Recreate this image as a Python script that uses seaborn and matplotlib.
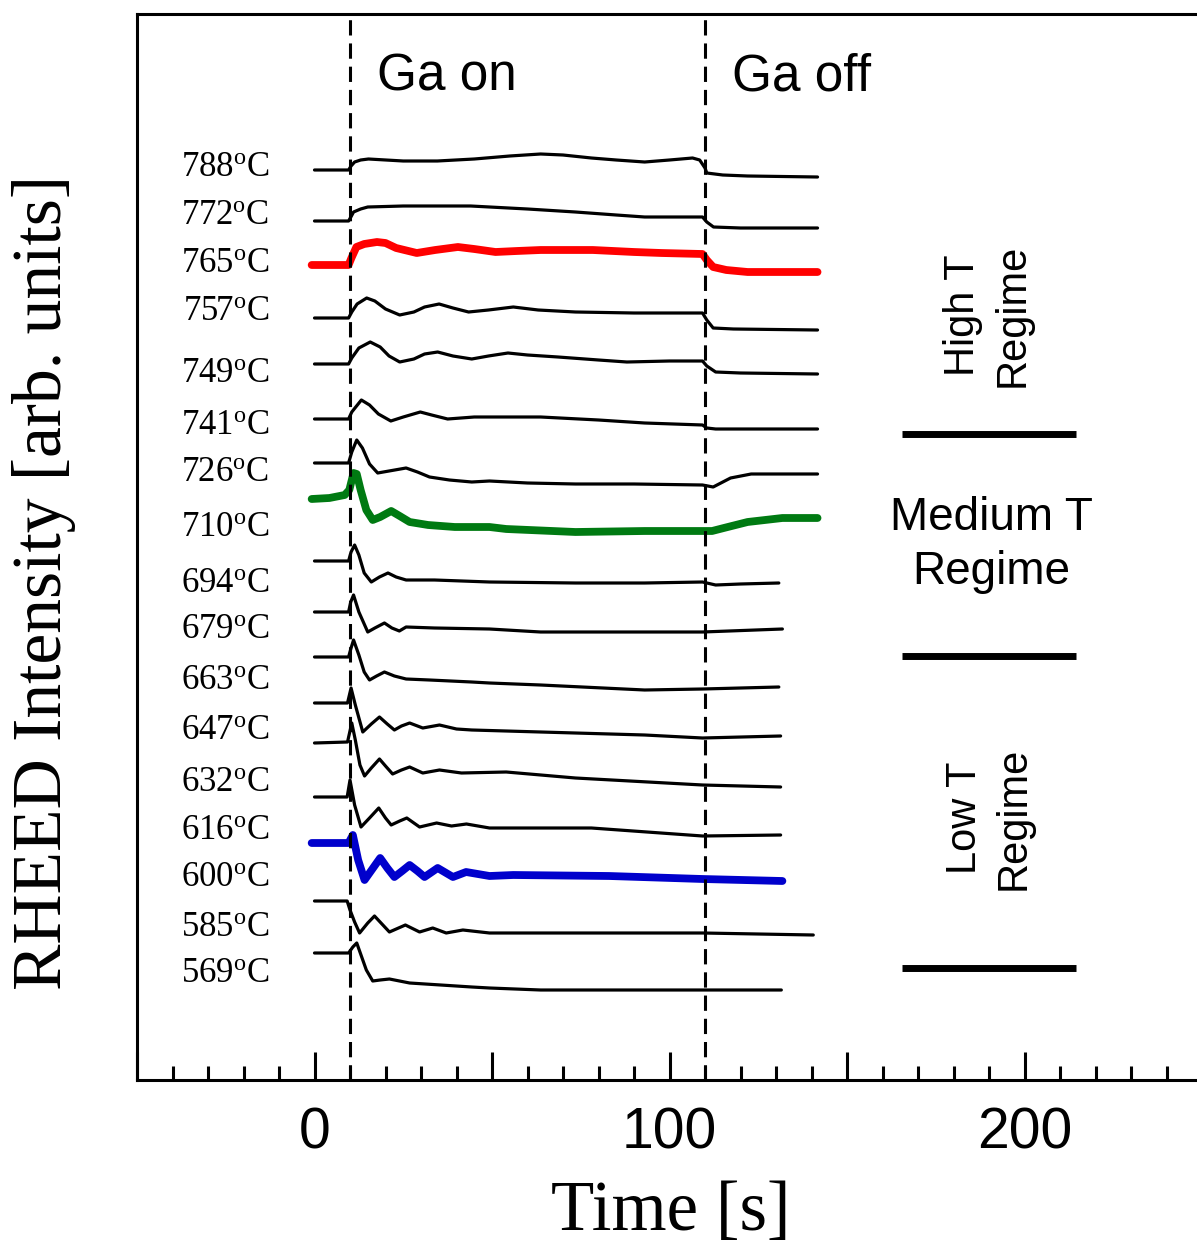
import matplotlib
matplotlib.use("Agg")
import matplotlib.pyplot as plt
import seaborn as sns
import pandas as pd
from matplotlib.ticker import MultipleLocator, FixedLocator, FixedFormatter

# ---------------- data (time [s], intensity [arb. units]) ----------------
t_788 = [0, 9.6, 10.3, 11.3, 13, 15.2, 25, 34.6, 45, 55, 63.7, 70, 78, 85, 93, 100, 106.5, 108.5, 110, 110.5, 115, 122, 141.7]
v_788 = [910, 910, 914, 918, 920, 921, 919, 919, 921, 924, 926, 925, 922, 920, 918, 920, 922, 920, 912, 907, 905, 904, 903]

t_772 = [0, 9.6, 10.4, 11, 13, 15, 25, 44, 60, 73.5, 85, 93, 109.3, 110.5, 112.4, 120, 141.7]
v_772 = [859, 859, 864, 868, 871, 873, 874, 874, 871, 868, 865, 863, 863, 858, 853, 852, 852]

t_765 = [-0.8, 9.6, 10.4, 11.8, 14, 17.6, 20, 23, 28.8, 34, 40.4, 45, 51, 57, 63.7, 78.4, 90, 97.7, 109.3, 110.5, 112.3, 116, 122, 141.7]
v_765 = [815, 815, 822, 833, 836, 838, 837, 832, 827, 830, 833, 831, 828, 829, 830, 830, 828, 827, 826, 820, 813, 810, 808, 808]

t_757 = [0, 9.6, 10.5, 12, 14.7, 17, 20, 24, 28, 31, 35.1, 39, 43.4, 49, 56, 63, 73.5, 90, 109.3, 110.5, 112.3, 118, 141.7]
v_757 = [762, 762, 768, 776, 782, 779, 771, 765, 768, 773, 776, 772, 768, 770, 773, 770, 768, 767, 767, 760, 752, 751, 750]

t_749 = [0, 9.6, 10.5, 12.5, 15.7, 18.5, 21, 24, 28, 31, 34.7, 39, 44.3, 49, 54.5, 60, 68.6, 80, 88, 100, 109.3, 110.5, 113, 120, 141.7]
v_749 = [716, 716, 722, 732, 738, 733, 724, 718, 721, 726, 728, 724, 721, 724, 727, 725, 723, 720, 718, 719, 719, 714, 708, 707, 706]

t_741 = [0, 9.6, 10.5, 13.2, 15.5, 18, 21.5, 25, 29.8, 33, 37.5, 45, 63.7, 80, 93, 109.3, 110.5, 113, 141.7]
v_741 = [661, 661, 668, 680, 675, 666, 659, 663, 668, 665, 661, 663, 663, 660, 657, 655, 652, 651, 651]

t_726 = [0, 9.6, 10.5, 11.9, 13.5, 15.5, 17.8, 21, 25.8, 29, 32.4, 38, 44.3, 49.3, 60, 73.5, 90, 109.3, 112.3, 117.2, 123, 141.7]
v_726 = [617, 617, 628, 640, 632, 616, 607, 609, 612, 608, 603, 600, 598, 599, 597, 596, 596, 595, 593, 602, 606, 606]

t_710 = [-0.8, 4.2, 8.5, 9.8, 11, 11.9, 13, 14.6, 16.4, 18.5, 21.6, 24, 26.8, 32, 39.5, 49.3, 54, 73.5, 93, 109.3, 112, 115.3, 122, 131.8, 141.7]
v_710 = [581, 582, 585, 590, 607, 606, 590, 570, 560, 563, 569, 564, 558, 555, 553, 553, 551, 548, 549, 549, 549, 552, 558, 562, 562]

t_694 = [0, 9.6, 10.3, 11.3, 12.5, 14, 16, 18.3, 20.7, 23, 25.8, 33.8, 49.3, 73.5, 93, 109.3, 113, 120, 130.8]
v_694 = [519, 519, 528, 535, 525, 507, 498, 503, 507, 503, 500, 500, 498, 497, 497, 498, 495, 496, 497]

t_679 = [0, 9.6, 10.2, 11, 12.5, 15, 17, 19.7, 21.8, 23.9, 25.8, 33.8, 49.3, 63.7, 109.3, 131.8]
v_679 = [468, 468, 478, 485, 468, 448, 452, 457, 452, 449, 453, 452, 451, 448, 448, 451]

t_663 = [0, 9.6, 10.3, 11, 12.5, 14, 15.5, 17.5, 19.7, 22.5, 25.8, 32.4, 44.3, 49.3, 63.7, 93, 109.3, 130.8]
v_663 = [423, 423, 432, 440, 425, 408, 400, 404, 408, 404, 401, 400, 398, 397, 395, 390, 391, 393]

t_647 = [0, 9.3, 10.3, 11.5, 13.6, 16, 18.3, 20.5, 22.5, 24.5, 26.8, 30.5, 35.2, 40, 44.3, 63.7, 93, 109.3, 131.3]
v_647 = [377, 377, 392, 375, 348, 356, 363, 356, 350, 354, 357, 352, 355, 351, 350, 348, 345, 342, 344]

t_632 = [0, 9.3, 10.5, 11.5, 12.8, 14.1, 16, 18.3, 20, 22, 24.5, 26.8, 30.5, 35.2, 41.4, 54, 73.5, 109.3, 131.3]
v_632 = [337, 338, 357, 340, 315, 304, 312, 321, 314, 306, 310, 313, 307, 310, 307, 308, 302, 295, 293]

t_616 = [0, 9.2, 10, 11.3, 13.1, 15.5, 18.1, 20, 21.6, 24, 26, 29.6, 34.4, 38.6, 42.8, 49.3, 54, 78, 109.3, 131.3]
v_616 = [283, 283, 300, 275, 253, 262, 272, 262, 255, 259, 262, 253, 257, 254, 256, 252, 252, 252, 244, 245]

t_600 = [-0.8, 9.6, 10.8, 12.3, 14.1, 16.3, 18.5, 20.5, 22.5, 24.7, 26.8, 29, 31, 34.7, 39, 42.7, 49.3, 56, 83, 109.3, 131.8]
v_600 = [237, 237, 245, 220, 200, 211, 222, 212, 203, 209, 215, 209, 203, 212, 203, 208, 204, 205, 204, 201, 199]

t_585 = [0, 9.2, 10, 11.3, 12.7, 15, 16.9, 19, 21.1, 25.6, 29.6, 33.3, 37.1, 41.8, 49.3, 73.5, 109.3, 140.5]
v_585 = [179, 179, 170, 158, 147, 157, 164, 156, 148, 155, 148, 152, 147, 150, 147, 147, 147, 145]

t_569 = [0, 9.6, 10.8, 11.9, 13.2, 14.6, 16.4, 18.5, 21.1, 26.8, 44.3, 49.3, 63.7, 131.5]
v_569 = [127, 127, 133, 137, 124, 110, 99, 100, 101, 97, 93, 92, 90, 90]

temperatures = [788, 772, 765, 757, 749, 741, 726, 710, 694, 679, 663, 647, 632, 616, 600, 585, 569]
times = [t_788, t_772, t_765, t_757, t_749, t_741, t_726, t_710, t_694, t_679,
         t_663, t_647, t_632, t_616, t_600, t_585, t_569]
values = [v_788, v_772, v_765, v_757, v_749, v_741, v_726, v_710, v_694, v_679,
          v_663, v_647, v_632, v_616, v_600, v_585, v_569]
highlight = {765: "#ff0000", 710: "#007a12", 600: "#0000cc"}

label_y = [904, 856, 808, 760, 698, 646, 599, 544, 488, 442, 391, 341, 289, 241, 194, 144, 98]
ga_times = [10, 110]
regime_bounds = [646, 424, 112]
xtick_labels = ["", "0", "", "100", "", "200", ""]

# ---------------- figure ----------------
sns.set_theme(style="white")
plt.rcParams["mathtext.fontset"] = "custom"
plt.rcParams["mathtext.rm"] = "Liberation Serif"
plt.rcParams["mathtext.it"] = "Liberation Serif:italic"
plt.rcParams["text.color"] = "black"
plt.rcParams["axes.labelcolor"] = "black"
plt.rcParams["xtick.color"] = "black"
plt.rcParams["xtick.labelcolor"] = "black"

W, H = 1197, 1244
fig = plt.figure(figsize=(W / 100, H / 100), dpi=100)
ax = fig.add_axes([137 / W, (H - 1080) / H, 1065 / W, 1066 / H])

for temp, tt, vv in zip(temperatures, times, values):
    df = pd.DataFrame({"t": tt, "v": vv})
    if temp in highlight:
        sns.lineplot(data=df, x="t", y="v", ax=ax, color=highlight[temp], lw=5.6,
                     estimator=None, sort=False, zorder=3, solid_joinstyle="round")
    else:
        sns.lineplot(data=df, x="t", y="v", ax=ax, color="black", lw=2.3,
                     estimator=None, sort=False, zorder=2, solid_joinstyle="round")

for gt in ga_times:
    ax.axvline(gt, color="black", lw=2.2, linestyle=(0, (5, 2.6)), zorder=4)

ax.set_xlim(-50, 250)
ax.set_ylim(0, 1066)

# temperature labels
for temp, ly in zip(temperatures, label_y):
    ax.text(-12.7, ly, f"{temp}" + r"$^{\mathrm{o}}$" + "C", ha="right", va="baseline",
            fontsize=25, family="Liberation Serif", color="black")

ax.text(17.7, 1003, "Ga on", ha="left", va="center", fontsize=37,
        family="Liberation Sans", color="black")
ax.text(117.7, 1003, "Ga off", ha="left", va="center", fontsize=37,
        family="Liberation Sans", color="black")

# regime separators and labels
for by in regime_bounds:
    ax.plot([165.6, 214.4], [by, by], color="black", lw=5, solid_capstyle="butt")

ax.text(189.6, 765, "High T\nRegime", rotation=90, ha="center", va="center",
        multialignment="center", fontsize=30, family="Liberation Sans",
        linespacing=1.3, color="black")
ax.text(190.7, 535, "Medium T\nRegime", ha="center", va="center",
        multialignment="center", fontsize=33, family="Liberation Sans",
        linespacing=1.27, color="black")
ax.text(190.1, 262, "Low T\nRegime", rotation=90, ha="center", va="center",
        multialignment="center", fontsize=30, family="Liberation Sans",
        linespacing=1.3, color="black")

# axes styling
for side in ["left", "top", "bottom", "right"]:
    ax.spines[side].set_visible(True)
    ax.spines[side].set_color("black")
    ax.spines[side].set_linewidth(2.2)

ax.set_yticks([])
ax.xaxis.set_major_locator(FixedLocator([-50, 0, 50, 100, 150, 200, 250]))
ax.xaxis.set_major_formatter(FixedFormatter(xtick_labels))
ax.xaxis.set_minor_locator(MultipleLocator(10))
ax.tick_params(axis="x", which="major", direction="in", length=20, width=2.2,
               pad=19, labelsize=41, bottom=True, top=False, color="black",
               labelcolor="black")
ax.tick_params(axis="x", which="minor", direction="in", length=10, width=2.2,
               bottom=True, top=False, color="black")
for lab in ax.get_xticklabels():
    lab.set_family("Liberation Sans")

ax.set_xlabel("Time [s]", fontsize=51, family="Liberation Serif", color="black")
ax.xaxis.label.set_va("center")
ax.xaxis.set_label_coords((671 - 137) / 1065, (1080 - 1212) / 1066)
ax.set_ylabel("RHEED Intensity [arb. units]", fontsize=50, family="Liberation Serif", color="black")
ax.yaxis.label.set_va("center")
ax.yaxis.set_label_coords((44 - 137) / 1065, (1080 - 582) / 1066)

fig.savefig("out.png", dpi=100, facecolor="white")
